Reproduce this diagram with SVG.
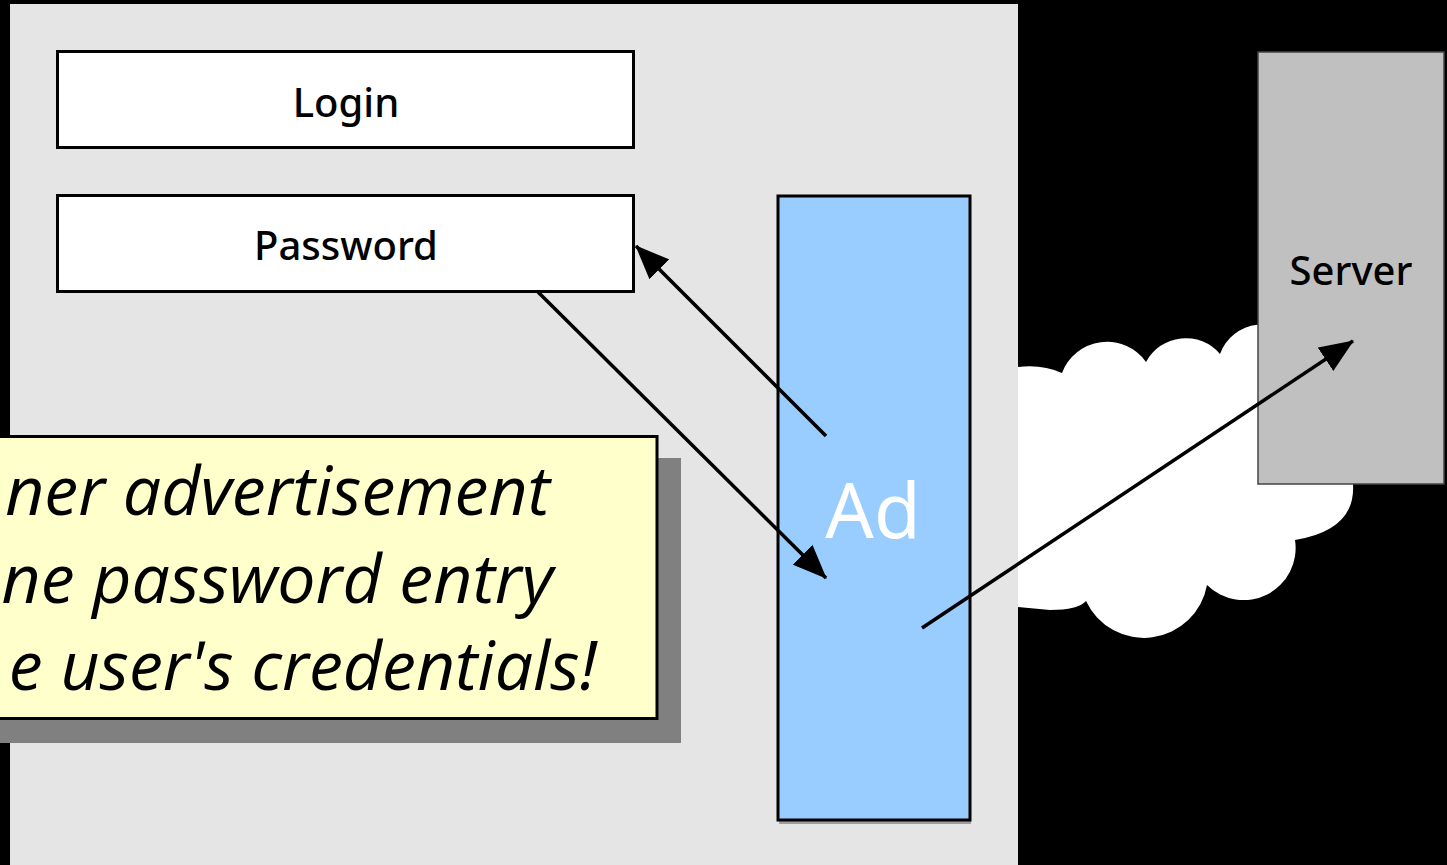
<svg xmlns="http://www.w3.org/2000/svg" width="1447" height="865" viewBox="0 0 1447 865">
<style>
.field{fill:#ffffff;stroke:#000;stroke-width:3}
.lbl{font-family:"Noto Sans","Liberation Sans",sans-serif;font-size:40px;font-weight:500;fill:#000;text-anchor:middle}
.note{font-family:"Open Sans","Liberation Sans",sans-serif;font-style:italic;font-size:68px;fill:#000;text-anchor:end}
.conn{stroke:#000;stroke-width:3.5;fill:none;marker-end:url(#ah)}
</style>
<defs>
<marker id="ah" viewBox="0 0 34 28" refX="33" refY="14" markerWidth="34" markerHeight="28" markerUnits="userSpaceOnUse" orient="auto">
<path d="M0,0 L34,14 L0,28 Z" fill="#000"/>
</marker>
</defs>
<rect x="0" y="0" width="1447" height="865" fill="#000"/>
<g id="page">
<rect x="10" y="4" width="1008" height="870" fill="#e5e5e5"/>
</g>
<g id="cloud">
<path d="M1018,367 Q1042,364 1062,373 A48,48 0 0 1 1146,362 A45,45 0 0 1 1220,354 A45,45 0 0 1 1300,345 L1345,420 L1353,484 Q1356,530 1295,540 A52,52 0 0 1 1207,585 A64,64 0 0 1 1086,601 Q1078,610 1050,610 L1018,607 Z" fill="#fff"/>
</g>
<g id="server">
<rect x="1258" y="52" width="186" height="432" fill="#c0c0c0" stroke="#444" stroke-width="1.5"/>
<text class="lbl" x="1351" y="285">Server</text>
</g>
<g id="ad">
<rect x="779" y="199" width="192" height="625" fill="#555" opacity="0.5"/>
<rect x="778" y="196" width="192" height="624" fill="#99ccff" stroke="#000" stroke-width="3"/>
<text x="873" y="538" font-family="Noto Sans,Liberation Sans,sans-serif" font-size="76" fill="#fff" text-anchor="middle">Ad</text>
</g>
<g id="login">
<rect class="field" x="57.5" y="51.5" width="576" height="96"/>
<text class="lbl" x="346" y="117">Login</text>
</g>
<g id="password">
<rect class="field" x="57.5" y="195.5" width="576" height="96"/>
<text class="lbl" x="346" y="260">Password</text>
</g>
<g id="connectors">
<line class="conn" x1="826" y1="436" x2="636" y2="246"/>
<line class="conn" x1="538" y1="292" x2="826" y2="578"/>
<line class="conn" x1="922" y1="628" x2="1353" y2="341"/>
</g>
<g id="callout">
<rect x="-20" y="458" width="701" height="285" fill="#808080"/>
<rect x="-20" y="436.5" width="677" height="282" fill="#ffffcc" stroke="#000" stroke-width="3"/>
<text class="note" x="550" y="515">ner advertisement</text>
<text class="note" x="553" y="603">ne password entry</text>
<text class="note" x="597" y="690">e user's credentials!</text>
</g>
</svg>
